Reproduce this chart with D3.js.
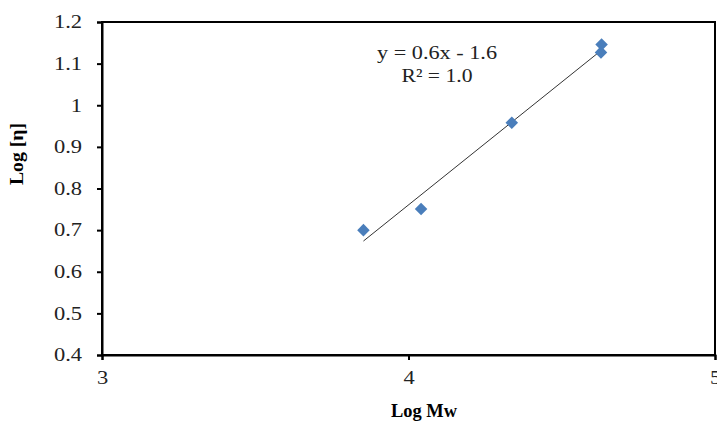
<!DOCTYPE html>
<html>
<head>
<meta charset="utf-8">
<script src="https://cdn.jsdelivr.net/npm/d3@7"></script>
<style>
  body { margin: 0; background: #fff; }
  svg text { font-family: "Liberation Serif", "Times New Roman", serif !important; }
</style>
</head>
<body>
<svg id="chart"></svg>
<script>
// data
const logMw = [3.853, 4.041, 4.337, 4.630, 4.628];
const logEta = [0.700, 0.751, 0.958, 1.146, 1.127];
const xTicks = [3, 4, 5];
const yTicks = [0.4, 0.5, 0.6, 0.7, 0.8, 0.9, 1, 1.1, 1.2];
const equationLines = ['y = 0.6x - 1.6', 'R² = 1.0'];

const width = 717,
  height = 423;
const margin = { top: 22, right: 2, bottom: 68, left: 102 };

// the original picture is a bit wider than tall, so text looks stretched
const stretch = (sel, k) => sel.each(function () {
  const len = this.getComputedTextLength();
  d3.select(this).attr('textLength', len * k).attr('lengthAdjust', 'spacingAndGlyphs');
});

const svg = d3.select('#chart').attr('width', width).attr('height', height);

const x = d3.scaleLinear().domain([3, 5]).range([margin.left, width - margin.right]);
const y = d3.scaleLinear().domain([0.4, 1.2]).range([height - margin.bottom, margin.top]);

// frame
svg.append('rect')
  .attr('x', x(3)).attr('y', y(1.2))
  .attr('width', x(5) - x(3)).attr('height', y(0.4) - y(1.2))
  .attr('fill', 'none').attr('stroke', '#000').attr('stroke-width', 2);

const yAxis = svg.append('g')
  .attr('transform', 'translate(' + x(3) + ',0)')
  .call(d3.axisLeft(y).tickValues(yTicks).tickSize(5).tickPadding(15)
    .tickFormat(d => String(d)));
const xAxis = svg.append('g')
  .attr('transform', 'translate(0,' + y(0.4) + ')')
  .call(d3.axisBottom(x).tickValues(xTicks).tickSize(5).tickPadding(11)
    .tickFormat(d => String(d)));

[xAxis, yAxis].forEach(g => {
  g.select('.domain').attr('stroke-width', 2);
  g.selectAll('.tick line').attr('stroke-width', 2);
  g.selectAll('.tick text')
    .attr('font-size', 18)
    .attr('fill', '#222')
    .call(stretch, 1.25);
});

// linear fit
const points = logMw.map((v, i) => [v, logEta[i]]);
const mx = d3.mean(logMw), my = d3.mean(logEta);
const slope = d3.sum(points, p => (p[0] - mx) * (p[1] - my)) / d3.sum(logMw, v => (v - mx) ** 2);
const intercept = my - slope * mx;
const [x0, x1] = d3.extent(logMw);

svg.append('line')
  .attr('x1', x(x0)).attr('y1', y(slope * x0 + intercept))
  .attr('x2', x(x1)).attr('y2', y(slope * x1 + intercept))
  .attr('stroke', '#333').attr('stroke-width', 1);

svg.selectAll('path.pt')
  .data(points)
  .enter()
  .append('path')
  .attr('class', 'pt')
  .attr('d', d3.symbol(d3.symbolDiamond2, 100))
  .attr('transform', d => 'translate(' + x(d[0]) + ',' + y(d[1]) + ')')
  .attr('fill', '#4a7ebb');

svg.append('text')
  .attr('x', 437).attr('y', 59)
  .attr('text-anchor', 'middle')
  .attr('font-size', 19).attr('fill', '#222')
  .text(equationLines[0])
  .attr('textLength', 120).attr('lengthAdjust', 'spacingAndGlyphs');
svg.append('text')
  .attr('x', 437).attr('y', 82)
  .attr('text-anchor', 'middle')
  .attr('font-size', 19).attr('fill', '#222')
  .text(equationLines[1])
  .attr('textLength', 71).attr('lengthAdjust', 'spacingAndGlyphs');

// axis titles
svg.append('text')
  .attr('x', 424).attr('y', 417)
  .attr('text-anchor', 'middle')
  .attr('font-weight', 'bold').attr('font-size', 18)
  .text('Log Mw')
  .attr('textLength', 66).attr('lengthAdjust', 'spacingAndGlyphs');
svg.append('text')
  .attr('transform', 'translate(23,154) rotate(-90)')
  .attr('text-anchor', 'middle')
  .attr('font-weight', 'bold').attr('font-size', 18)
  .text('Log [η]')
  .attr('textLength', 62).attr('lengthAdjust', 'spacingAndGlyphs');
</script>
</body>
</html>
